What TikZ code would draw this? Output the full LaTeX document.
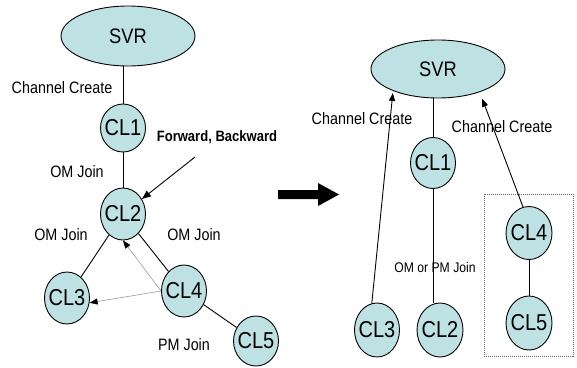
\documentclass[tikz,border=0pt]{standalone}
\usepackage{fontspec}
\setmainfont{Liberation Sans}[FakeStretch=0.87]
\usetikzlibrary{shapes.geometric,arrows.meta}
\definecolor{cfill}{RGB}{190,225,228}
\begin{document}
\begin{tikzpicture}[x=1pt,y=-1pt,
  cl/.style={ellipse,draw=black,line width=0.9pt,fill=cfill,inner xsep=-4pt,inner ysep=0pt,
    minimum width=45pt,minimum height=52pt,font=\fontsize{23}{23}\selectfont},
  svr/.style={cl,minimum width=134pt,minimum height=60pt,font=\fontsize{21}{21}\selectfont},
  lab/.style={inner sep=0pt,font=\fontsize{16.5}{16.5}\selectfont},
  smalllab/.style={inner sep=0pt,font=\fontsize{14}{14}\selectfont},
  boldlab/.style={inner sep=0pt,font=\fontsize{15}{15}\selectfont\bfseries},
  edge/.style={line width=0.9pt,draw=black},
  tipped/.style={edge,-{Triangle[length=9pt,width=7pt]}},
  ghost/.style={line width=0.5pt,draw=black!45,-{Triangle[length=8pt,width=6pt,color=black]}},
  group/.style={draw=black!60,line width=0.6pt,dash pattern=on 1pt off 1pt}
]
\useasboundingbox (0,0) rectangle (577,367);

% ---------- left diagram ----------
\node[svr] (lsvr) at (128,36) {SVR};
\node[cl,minimum height=48pt] (lcl1) at (123,128) {CL1};
\node[cl] (lcl2) at (123,214) {CL2};
\node[cl] (lcl3) at (67,298) {CL3};
\node[cl] (lcl4) at (184,291) {CL4};
\node[cl,minimum height=50pt] (lcl5) at (256,341) {CL5};

\node[lab] (lchan) at (62,88) {Channel Create};
\node[boldlab] (lfwd) at (217,137) {Forward, Backward};
\node[lab] (lom1) at (77,172) {OM Join};
\node[lab] (lom2) at (61,235) {OM Join};
\node[lab] (lom3) at (194,235) {OM Join};
\node[lab] (lpm) at (184,345) {PM Join};
\coordinate (fwdstart) at (195,157);

\draw[edge] (lcl1.north) -- (lcl1.north |- lsvr.south);
\draw[edge] (lcl1) -- (lcl2);
\draw[edge] (lcl2) -- (lcl3);
\draw[edge] (lcl2) -- (lcl4);
\draw[edge] (lcl4) -- (lcl5);
\draw[tipped] (fwdstart) -- (lcl2);
\draw[ghost] (lcl4.west) -- (lcl2.south);
\draw[ghost] (lcl4.west) -- (lcl3.-12);

% ---------- transition arrow ----------
\fill[black] (278,190) -- (318,190) -- (318,183) -- (339,194.5) -- (318,206) -- (318,199) -- (278,199) -- cycle;

% ---------- right diagram ----------
\node[svr,minimum height=58pt] (rsvr) at (438,69) {SVR};
\node[cl,minimum height=51pt] (rcl1) at (433,163) {CL1};
\node[cl,minimum height=54pt] (rcl3) at (377,330) {CL3};
\node[cl,minimum width=46pt,minimum height=54pt] (rcl2) at (440,330) {CL2};
\node[cl,minimum width=46pt,minimum height=53pt] (rcl4) at (529,233) {CL4};
\node[cl,minimum width=46pt,minimum height=54pt] (rcl5) at (529,323) {CL5};

\node[lab] (rchan1) at (362,119) {Channel Create};
\node[lab] (rchan2) at (502,127) {Channel Create};
\node[smalllab] (rjoin) at (435,267) {OM or PM Join};

\draw[group] (484,194) rectangle (573,356);

\draw[edge] (rcl1.north) -- (rcl1.north |- rsvr.south);
\draw[edge] (rcl1.south) -- (rcl1.south |- rcl2.north);
\draw[edge] (rcl4) -- (rcl5);
\draw[tipped,-{Triangle[length=8pt,width=6pt]},shorten >=2pt] (rcl3.101) -- (rsvr.206);
\draw[tipped,-{Triangle[length=8pt,width=6pt]},shorten >=7pt] (rcl4.103) -- (rsvr.-29);
\end{tikzpicture}
\end{document}
